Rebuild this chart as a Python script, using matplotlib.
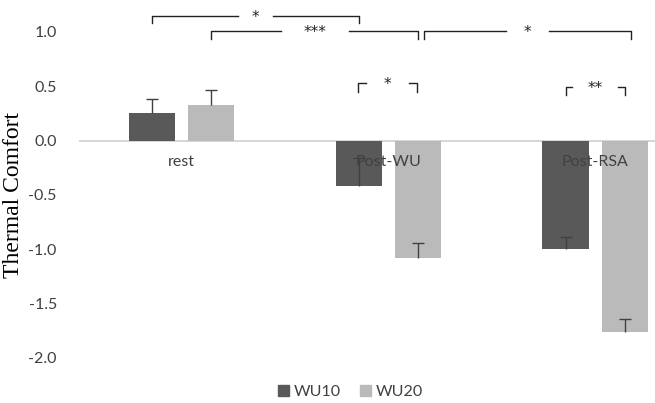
import matplotlib
matplotlib.use("Agg")
import matplotlib.pyplot as plt
import numpy as np

categories = ["rest", "Post-WU", "Post-RSA"]
series_names = ["WU10", "WU20"]
wu10_values = [0.25, -0.42, -1.00]
wu20_values = [0.33, -1.08, -1.76]
wu10_err = [0.13, 0.26, 0.11]
wu20_err = [0.14, 0.14, 0.12]
y_ticks = [1.0, 0.5, 0.0, -0.5, -1.0, -1.5, -2.0]
y_label = "Thermal Comfort"

# significance brackets: (series_a, group_a, series_b, group_b, level, label)
brackets = [
    (0, 0, 0, 1, 1.147, "*"),
    (1, 0, 1, 1, 1.005, "***"),
    (1, 1, 1, 2, 1.005, "*"),
    (0, 1, 1, 1, 0.53, "*"),
    (0, 2, 1, 2, 0.49, "**"),
]
bracket_gaps = [0.085, 0.165, 0.105, 0.105, 0.11]
bracket_drops = [0.065, 0.065, 0.065, 0.08, 0.07]
bracket_shift = [0.0, 0.0, 0.03, -0.005, 0.0]

colors = ["#595959", "#bababa"]
tick_font = "Lato"

fig = plt.figure(figsize=(6.55, 4.03), dpi=100)
ax = fig.add_axes([79 / 655, 0.1117, 1 - 79 / 655, 0.9206 - 0.1117])

x = np.arange(len(categories))
width = 0.223
offset = 0.143
bars = []
for i, (vals, errs) in enumerate([(wu10_values, wu10_err), (wu20_values, wu20_err)]):
    pos = x + (-offset if i == 0 else offset)
    b = ax.bar(pos, vals, width, color=colors[i], label=series_names[i], zorder=2)
    bars.append(b)
    tops = np.array(vals) + np.array(errs)
    ax.vlines(pos, vals, tops, color="#404040", lw=1.0, zorder=3)
    ax.plot(pos, tops, ls="none", marker="_", ms=9, mew=1.0, color="#404040", zorder=3)

ax.set_xlim(-0.497, 2.29)
ax.set_ylim(-2.0, 1.0)
ax.axhline(0, color="#d0d0d0", lw=1.2, zorder=1)
for s in ax.spines.values():
    s.set_visible(False)
ax.set_xticks([])
ax.set_yticks(y_ticks)
ax.set_yticklabels([f"{v:.1f}" for v in y_ticks], fontfamily=tick_font, fontsize=11.5, color="#404040")
ax.tick_params(axis="y", length=0, pad=16)

for xi, name in zip(x, categories):
    ax.text(xi, -0.2, name, ha="center", va="center", fontfamily=tick_font,
            fontsize=11.5, color="#404040", zorder=4)

ax.set_ylabel(y_label, fontfamily="Liberation Serif", fontsize=17, color="#000000", labelpad=4)
ax.yaxis.set_label_coords(-0.095, 0.5)

def bar_center(s, g):
    r = bars[s].patches[g]
    return r.get_x() + r.get_width() / 2

for k, (sa, ga, sb, gb, lev, lab) in enumerate(brackets):
    x1 = bar_center(sa, ga) + bracket_shift[k]
    x2 = bar_center(sb, gb) + bracket_shift[k]
    mid = (x1 + x2) / 2
    g = bracket_gaps[k]
    d = bracket_drops[k]
    kw = dict(color="#222222", lw=1.0, clip_on=False, zorder=5)
    ax.plot([x1, x1, mid - g], [lev - d, lev, lev], **kw)
    ax.plot([mid + g, x2, x2], [lev, lev, lev - d], **kw)
    ax.text(mid, lev - 0.01, lab, ha="center", va="center", fontsize=11,
            fontfamily="DejaVu Sans", color="#222222", clip_on=False)

handles = [plt.Rectangle((0, 0), 1, 1, color=c) for c in colors]
fig.legend(handles, series_names, loc="center", bbox_to_anchor=(0.535, 0.027), ncol=2,
           frameon=False, prop=dict(family=tick_font, size=11.5), handlelength=0.7,
           handleheight=0.7, handletextpad=0.3, columnspacing=1.2, labelcolor="#404040")

fig.savefig("out.png", dpi=100)
